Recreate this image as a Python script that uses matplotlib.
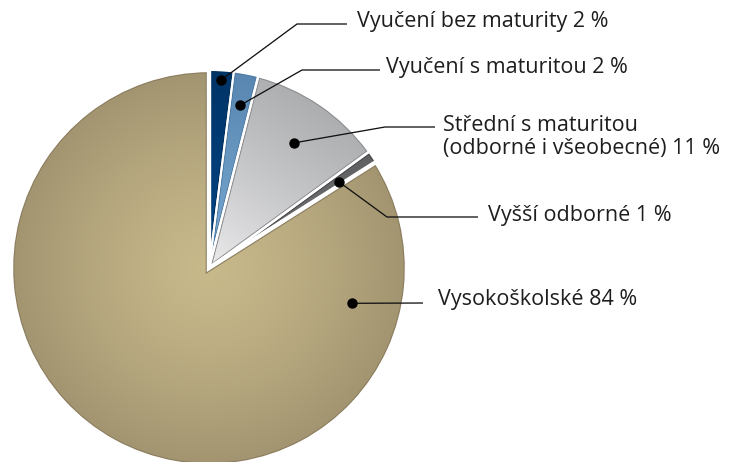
import numpy as np
import matplotlib.pyplot as plt
from matplotlib.colors import to_rgb
from matplotlib.patches import Wedge

# data
labels = ['Vyučení bez maturity 2 %', 'Vyučení s maturitou 2 %',
          'Střední s maturitou\n(odborné i všeobecné) 11 %',
          'Vyšší odborné 1 %', 'Vysokoškolské 84 %']
shares = [2, 2, 11, 1, 84]

# colours (gradient start -> end) and outline per slice
grad = [('#00468a', '#003466'), ('#7aaad3', '#5886b0'), ('#efeff0', '#acadaf'),
        ('#737476', '#505153'), ('#c8b98b', '#a29470')]
outline = ['#00305e', '#4d7aa3', '#8c8d90', '#444446', '#8a7c5e']
white_half = [1.0, 1.0, 1.2, 1.2, 2.2]   # px of white gap on each side of a slice

W, H = 736, 462
cx, cy, R = 209, H - 268, 198

fig = plt.figure(figsize=(W / 100, H / 100), dpi=100)
ax = fig.add_axes([0, 0, 1, 1])
wedges, _ = ax.pie(shares, startangle=90, counterclock=False, center=(cx, cy), radius=R,
                   wedgeprops=dict(facecolor='none', edgecolor='none'))
ax.set_xlim(0, W)
ax.set_ylim(0, H)
ax.set_aspect('equal')
ax.axis('off')

yy, xx = np.mgrid[0:H, 0:W] + 0.5
px = 0.72  # points per pixel

mids = []
for i, w in enumerate(wedges):
    mid = np.deg2rad((w.theta1 + w.theta2) / 2)
    mids.append(mid)
    c0, c1 = np.array(to_rgb(grad[i][0])), np.array(to_rgb(grad[i][1]))
    if i == 4:
        t = (np.hypot(xx - cx, yy - cy) / R) ** 1.3
    elif i == 2:
        t = np.clip(((xx - cx) * 0.55 + (yy - cy) * 0.83) / R, 0, 1) ** 0.8
    else:
        t = (yy - cy) / R
    t = np.clip(t, 0, 1)[..., None]
    img = c0 * (1 - t) + c1 * t
    im = ax.imshow(img, extent=(0, W, 0, H), origin='lower', interpolation='bilinear', zorder=1)
    im.set_clip_path(w)
    # coloured rim just inside the white gap
    rim = Wedge((cx, cy), R, w.theta1, w.theta2, facecolor='none',
                edgecolor=outline[i], lw=2 * (white_half[i] + 1.1) * px, zorder=2)
    ax.add_patch(rim)
    rim.set_clip_path(w)

for i, w in enumerate(wedges):
    gap = Wedge((cx, cy), R, w.theta1, w.theta2, facecolor='none', edgecolor='white',
                lw=2 * white_half[i] * px, zorder=3 + (i == 4), joinstyle='miter')
    ax.add_patch(gap)

# leader lines: dot radius fraction, dot angle override, elbow, end, text pos
dot_r = [0.95, 0.836, 0.764, 0.788, 0.745]
dot_ang = [None, None, None, 33.4, -13.85]
elbows = [(297, 24), (302, 70), (385, 127), (387, 217), None]
ends = [(347, 24), (380, 70), (435, 127), (478, 217), (423, 303)]
text_pos = [(357, 21), (386, 68), (443, 137), (488, 215), (438, 300)]

for i in range(5):
    a = mids[i] if dot_ang[i] is None else np.deg2rad(dot_ang[i])
    dx, dy = cx + dot_r[i] * R * np.cos(a), cy + dot_r[i] * R * np.sin(a)
    xs, ys = [dx], [dy]
    if elbows[i] is not None:
        xs.append(elbows[i][0]); ys.append(H - elbows[i][1])
    xs.append(ends[i][0]); ys.append(H - ends[i][1])
    ax.plot(xs, ys, color='#111111', lw=1.3 * px, zorder=5, solid_capstyle='butt')
    ax.plot(dx, dy, 'o', color='black', ms=9 * px, zorder=6)
    ax.text(text_pos[i][0], H - text_pos[i][1], labels[i], ha='left', va='center',
            fontsize=15.5, family='Open Sans', color='#1e1e1e', linespacing=1.12)

fig.savefig('out.png', dpi=100)
